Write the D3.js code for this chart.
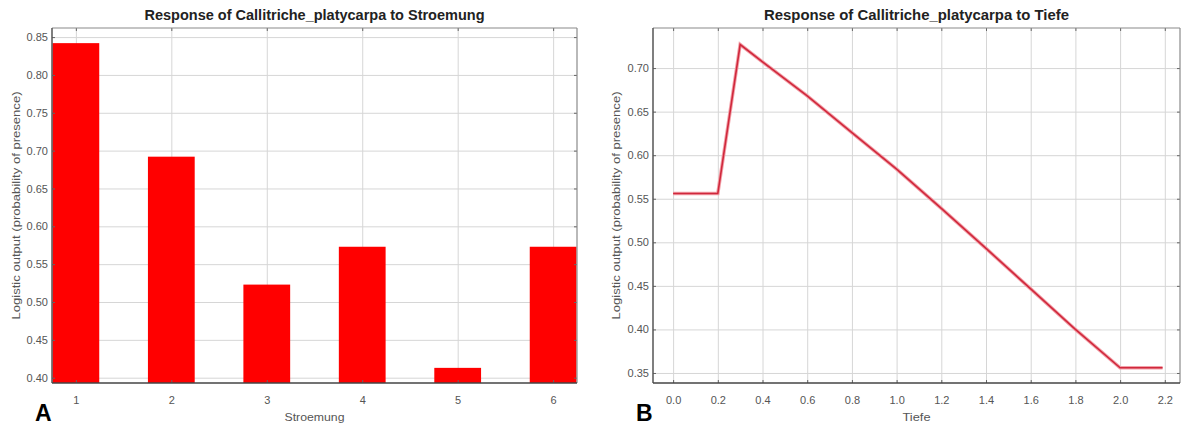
<!DOCTYPE html>
<html>
<head>
<meta charset="utf-8">
<script src="https://cdn.jsdelivr.net/npm/d3@7"></script>
<style>
    body { margin: 0; background: #ffffff; }
    svg { display: block; font-family: Arial, "Liberation Sans", sans-serif; }
    .grid line { stroke: #d6d6d6; stroke-width: 1; }
    .grid path { stroke: none; }
    .axis text { fill: #555555; font-size: 11px; }
    .axis line { stroke: #666666; }
    .axis path { stroke: none; }
</style>
</head>
<body>
<svg id="chart" width="1182" height="425"></svg>
<script>
// panel A: Stroemung (categorical response)
let stroemungCats = [1, 2, 3, 4, 5, 6];
let stroemungVals = [0.842, 0.692, 0.523, 0.573, 0.413, 0.573];
let yTicksA = [0.40, 0.45, 0.50, 0.55, 0.60, 0.65, 0.70, 0.75, 0.80, 0.85];

// panel B: Tiefe (continuous response)
let tiefeX = [0.0, 0.2, 0.3, 0.4, 0.6, 0.8, 1.0, 1.2, 1.4, 1.6, 1.8, 2.0, 2.19];
let tiefeY = [0.556, 0.556, 0.727, 0.707, 0.668, 0.626, 0.584, 0.539, 0.493, 0.4465, 0.400, 0.356, 0.356];
let xTicksB = [0.0, 0.2, 0.4, 0.6, 0.8, 1.0, 1.2, 1.4, 1.6, 1.8, 2.0, 2.2];
let yTicksB = [0.35, 0.40, 0.45, 0.50, 0.55, 0.60, 0.65, 0.70];

let svg = d3.select("#chart");

function drawFrame(panel, xScale, yScale, xTicks, yTicks) {
    let [x0, x1] = xScale.range();
    let [y0, y1] = yScale.range();  // y0 bottom, y1 top

    //grid
    panel.append('g')
        .attr('class', 'grid')
        .attr('transform', `translate(0, ${y0})`)
        .call(d3.axisBottom(xScale).tickValues(xTicks).tickSize(-(y0 - y1)).tickFormat(''));
    panel.append('g')
        .attr('class', 'grid')
        .attr('transform', `translate(${x0}, 0)`)
        .call(d3.axisLeft(yScale).tickValues(yTicks).tickSize(-(x1 - x0)).tickFormat(''));
}

function drawAxes(panel, xScale, yScale, xTicks, yTicks, xFmt, yFmt) {
    let [x0, x1] = xScale.range();
    let [y0, y1] = yScale.range();

    //inside ticks with labels
    panel.append('g')
        .attr('class', 'axis')
        .attr('transform', `translate(0, ${y0})`)
        .call(d3.axisBottom(xScale).tickValues(xTicks).tickSize(-3).tickPadding(13).tickFormat(xFmt));
    panel.append('g')
        .attr('class', 'axis')
        .attr('transform', `translate(${x0}, 0)`)
        .call(d3.axisLeft(yScale).tickValues(yTicks).tickSize(-3).tickPadding(4).tickFormat(yFmt));
    panel.append('g')
        .attr('class', 'axis')
        .attr('transform', `translate(0, ${y1})`)
        .call(d3.axisTop(xScale).tickValues(xTicks).tickSize(-3).tickFormat(''));
    panel.append('g')
        .attr('class', 'axis')
        .attr('transform', `translate(${x1}, 0)`)
        .call(d3.axisRight(yScale).tickValues(yTicks).tickSize(-3).tickFormat(''));

    //frame
    panel.append('line').attr('x1', x0).attr('x2', x1).attr('y1', y1).attr('y2', y1)
        .attr('stroke', '#8a8a8a').attr('stroke-width', 1.2);
    panel.append('line').attr('x1', x1).attr('x2', x1).attr('y1', y1).attr('y2', y0)
        .attr('stroke', '#8a8a8a').attr('stroke-width', 1.2);
    panel.append('line').attr('x1', x0).attr('x2', x0).attr('y1', y1).attr('y2', y0)
        .attr('stroke', '#555555').attr('stroke-width', 1.5);
    panel.append('line').attr('x1', x0).attr('x2', x1).attr('y1', y0).attr('y2', y0)
        .attr('stroke', '#444444').attr('stroke-width', 1.5);
}

function drawLabels(panel, xScale, yScale, title, titleLen, xLabel, xLabelLen, letter, yLabelX) {
    let [x0, x1] = xScale.range();
    let [y0, y1] = yScale.range();
    let cx = (x0 + x1) / 2;

    panel.append('text')
        .attr('x', cx)
        .attr('y', 20)
        .attr('text-anchor', 'middle')
        .attr('font-size', '14px')
        .attr('font-weight', 'bold')
        .attr('fill', '#222222')
        .attr('textLength', titleLen)
        .attr('lengthAdjust', 'spacingAndGlyphs')
        .text(title);

    panel.append('text')
        .attr('x', -(y0 + y1) / 2)
        .attr('y', yLabelX)
        .attr('transform', 'rotate(-90)')
        .attr('text-anchor', 'middle')
        .attr('font-size', '11px')
        .attr('fill', '#555555')
        .attr('textLength', 228)
        .attr('lengthAdjust', 'spacingAndGlyphs')
        .text('Logistic output (probability of presence)');

    panel.append('text')
        .attr('x', cx)
        .attr('y', 421)
        .attr('text-anchor', 'middle')
        .attr('font-size', '11px')
        .attr('fill', '#555555')
        .attr('textLength', xLabelLen)
        .attr('lengthAdjust', 'spacingAndGlyphs')
        .text(xLabel);

    panel.append('text')
        .attr('x', x0 - 17)
        .attr('y', 421)
        .attr('font-size', '23px')
        .attr('font-weight', 'bold')
        .attr('fill', '#000000')
        .text(letter);
}

function visBars() {
    let panel = svg.append('g');
    let xScale = d3.scaleLinear().domain([0.75, 6.25]).range([52, 577]);
    let yScale = d3.scaleLinear().domain([0.393, 0.862]).range([383, 28]);

    drawFrame(panel, xScale, yScale, stroemungCats, yTicksA);

    let half = 0.245;
    for (i = 0; i < stroemungCats.length; i++) {
        let c = stroemungCats[i];
        let left = Math.max(xScale(c - half), xScale.range()[0]);
        panel.append('rect')
            .attr('x', left)
            .attr('y', yScale(stroemungVals[i]))
            .attr('width', xScale(c + half) - left)
            .attr('height', yScale.range()[0] - yScale(stroemungVals[i]))
            .attr('fill', '#ff0000');
    }

    drawAxes(panel, xScale, yScale, stroemungCats, yTicksA, d3.format('d'), d3.format('.2f'));
    drawLabels(panel, xScale, yScale, 'Response of Callitriche_platycarpa to Stroemung', 340, 'Stroemung', 60, 'A', 20);
}

function visLine() {
    let panel = svg.append('g');
    let xScale = d3.scaleLinear().domain([-0.09, 2.268]).range([653, 1180]);
    let yScale = d3.scaleLinear().domain([0.3385, 0.746]).range([383, 28]);

    drawFrame(panel, xScale, yScale, xTicksB, yTicksB);

    let pts = tiefeX.map((x, i) => [x, tiefeY[i]]);
    let line = d3.line()
        .x(d => xScale(d[0]))
        .y(d => yScale(d[1]));

    panel.append('path')
        .datum(pts)
        .attr('d', line)
        .attr('fill', 'none')
        .attr('stroke', '#f2a0a8')
        .attr('stroke-width', 3.5);
    panel.append('path')
        .datum(pts)
        .attr('d', line)
        .attr('fill', 'none')
        .attr('stroke', '#d0283c')
        .attr('stroke-width', 1.6);

    drawAxes(panel, xScale, yScale, xTicksB, yTicksB, d3.format('.1f'), d3.format('.2f'));
    drawLabels(panel, xScale, yScale, 'Response of Callitriche_platycarpa to Tiefe', 305, 'Tiefe', 28, 'B', 620);
}

visBars();
visLine();
</script>
</body>
</html>
